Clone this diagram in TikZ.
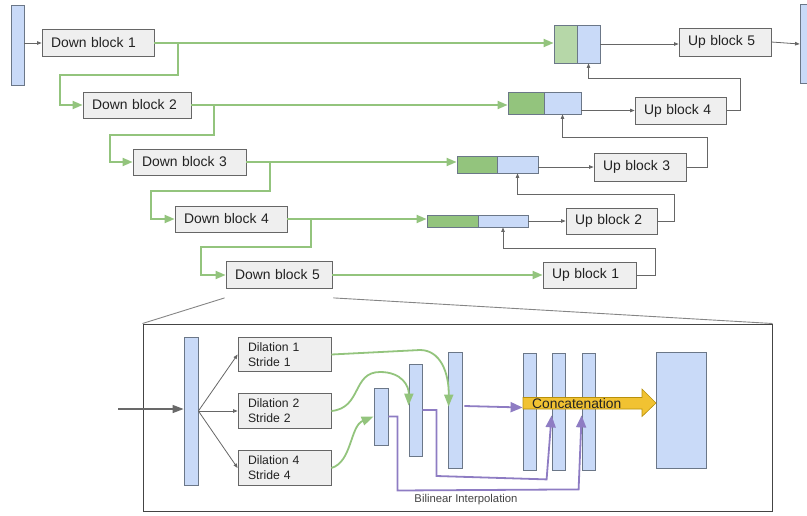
\documentclass[tikz,border=0pt]{standalone}
\usepackage{fontspec}
\setmainfont{Liberation Sans}
\usetikzlibrary{arrows.meta,calc}
\definecolor{boxfill}{HTML}{EFEFEF}
\definecolor{boxdraw}{HTML}{666666}
\definecolor{bluefill}{HTML}{C9DAF8}
\definecolor{bluedraw}{HTML}{6B7788}
\definecolor{grnc}{HTML}{93C47D}
\definecolor{grnlight}{HTML}{B6D7A8}
\definecolor{purc}{HTML}{8E7CC3}
\definecolor{yel}{HTML}{F1C232}
\definecolor{yeldraw}{HTML}{B8900A}
\definecolor{garc}{HTML}{666666}
\definecolor{txt}{HTML}{222222}
\definecolor{framec}{HTML}{444444}
\begin{document}
\begin{tikzpicture}[x=1pt,y=-1pt,
  blk/.style={draw=boxdraw, fill=boxfill, line width=0.8pt, inner xsep=9pt, inner ysep=0pt,
    align=left, text=txt, font=\fontsize{13.9}{16}\selectfont},
  dil/.style={draw=boxdraw, fill=boxfill, line width=0.8pt, inner xsep=10pt, inner ysep=0pt,
    align=left, text width=73pt, minimum height=34.5pt, text=txt, font=\fontsize{12.2}{15}\selectfont},
  bar/.style={draw=bluedraw, fill=bluefill, line width=0.8pt, inner sep=0pt},
  cg/.style={bar, fill=grnc},
  grn/.style={draw=grnc, line width=1.9pt, -{Triangle[length=10pt,width=8pt]}},
  gar/.style={draw=garc, line width=0.8pt, -{Triangle[length=4.5pt,width=3.5pt]}},
  fan/.style={draw=garc!80, line width=0.9pt},
  gcurve/.style={draw=grnc, line width=1.8pt, -{Triangle[length=12pt,width=9pt]}},
  pur/.style={draw=purc, line width=1.8pt, -{Triangle[length=12pt,width=10pt]}},
  inarrow/.style={draw=framec!80, line width=1.3pt, -{Triangle[length=11pt,width=8pt]}}
]
\useasboundingbox (0,0) rectangle (807,515);

% ---------- top: encoder / decoder ----------
\node[bar, minimum width=13pt, minimum height=80pt] (inbar) at (17.5,45) {};
\node[bar, minimum width=12pt, minimum height=79pt] (outbar) at (806,44) {};

\node[blk, text width=94pt, minimum height=27pt] (db1) at (98,43) {Down block 1};
\node[blk, text width=90pt, minimum height=26pt] (db2) at (137,105) {Down block 2};
\node[blk, text width=95pt, minimum height=26pt] (db3) at (189.5,162) {Down block 3};
\node[blk, text width=94pt, minimum height=26pt] (db4) at (231,219) {Down block 4};
\node[blk, text width=88pt, minimum height=27pt] (db5) at (279,275) {Down block 5};

\node[blk, text width=74pt, minimum height=28pt] (ub5) at (725,42) {Up block 5};
\node[blk, text width=73pt, minimum height=27pt] (ub4) at (680.5,110.5) {Up block 4};
\node[blk, text width=74pt, minimum height=28pt] (ub3) at (640,167) {Up block 3};
\node[blk, text width=73pt, minimum height=26pt] (ub2) at (611.5,221) {Up block 2};
\node[blk, text width=75pt, minimum height=26pt] (ub1) at (589.5,275) {Up block 1};

% concatenation blocks
\node[cg, fill=grnlight, minimum width=23pt, minimum height=38pt] (c5g) at (565.5,44) {};
\node[bar, minimum width=23pt, minimum height=38pt] (c5b) at (588.5,44) {};
\node[cg, minimum width=36pt, minimum height=22pt] (c4g) at (526,103) {};
\node[bar, minimum width=37pt, minimum height=22pt] (c4b) at (562.5,103) {};
\node[cg, minimum width=40pt, minimum height=17pt] (c3g) at (477,164.5) {};
\node[bar, minimum width=41pt, minimum height=17pt] (c3b) at (517.5,164.5) {};
\node[cg, minimum width=51pt, minimum height=12pt] (c2g) at (452.5,221) {};
\node[bar, minimum width=50pt, minimum height=12pt] (c2b) at (503,221) {};

% green skip connections
\draw[grn] (db1.east) -- (db1.east -| c5g.west);
\draw[grn] (db2.east) -- (db2.east -| c4g.west);
\draw[grn] (db3.east) -- (db3.east -| c3g.west);
\draw[grn] (db4.east) -- (db4.east -| c2g.west);
\draw[grn] (db5.east) -- (ub1.west);

% green down branches
\draw[grn] (db1.east) -- ++(24,0) |- ($(db2.west)+(-23,-30)$) |- (db2.west);
\draw[grn] (db2.east) -- ++(23,0) |- ($(db3.west)+(-23,-27)$) |- (db3.west);
\draw[grn] (db3.east) -- ++(24,0) |- ($(db4.west)+(-24,-28)$) |- (db4.west);
\draw[grn] (db4.east) -- ++(24,0) |- ($(db5.west)+(-25,-28)$) |- (db5.west);

% gray connectors
\draw[gar] (inbar.east |- db1.west) -- (db1.west);
\draw[gar] (c5b.east) -- (c5b.east -| ub5.west);
\draw[gar] (ub5.east) -- (outbar.west);
\draw[gar] (c4b.east |- ub4.west) -- (ub4.west);
\draw[gar] (c3b.east |- ub3.west) -- (ub3.west);
\draw[gar] (c2b.east |- ub2.west) -- (ub2.west);
\draw[gar] (ub4.east) -- ++(14,0) |- ($(c5b.south)+(0,15)$) -- (c5b.south);
\draw[gar] (ub3.east) -- ++(21,0) |- ($(c4b.south)+(0,23)$) -- (c4b.south);
\draw[gar] (ub2.east) -- ++(17,0) |- ($(c3b.south)+(0,21)$) -- (c3b.south);
\draw[gar] (ub1.east) -- ++(19,0) |- ($(c2b.south)+(0,21)$) -- (c2b.south);

% ---------- bottom: detail ----------
\node[draw=framec, line width=1pt, minimum width=629pt, minimum height=187pt, inner sep=0pt] (detail) at (457.5,417.5) {};
\draw[fan] ($(db5.south west)+(-1,9)$) -- (detail.north west);
\draw[fan] ($(db5.south east)+(1,9)$) -- (detail.north east);

\node[bar, minimum width=14pt, minimum height=148pt] (inbar2) at (191,411) {};
\coordinate (inp) at (118,409);
\draw[inarrow] (inp) -- (inbar2.west |- inp);

\node[dil] (d1) at (284.5,354.5) {Dilation 1\\Stride 1};
\node[dil] (d2) at (284.5,411) {Dilation 2\\Stride 2};
\node[dil] (d3) at (284.5,468) {Dilation 4\\Stride 4};
\draw[gar] (inbar2.east) -- (d1.west);
\draw[gar] (inbar2.east) -- (d2.west);
\draw[gar] (inbar2.east) -- (d3.west);

\node[bar, minimum width=14pt, minimum height=57pt] (barA) at (381,416.5) {};
\node[bar, minimum width=13pt, minimum height=92pt] (barB) at (415.5,410) {};
\node[bar, minimum width=14pt, minimum height=116pt] (barC) at (455,410) {};
\node[bar, minimum width=13pt, minimum height=117pt] (barD) at (529.5,411.5) {};
\node[bar, minimum width=13pt, minimum height=117pt] (barE) at (558.5,411.5) {};
\node[bar, minimum width=13pt, minimum height=117pt] (barF) at (588.5,411.5) {};
\node[bar, minimum width=50pt, minimum height=116pt] (outB) at (681,410) {};

% green curves
\draw[gcurve] (d1.east) -- (420,350) .. controls (440,350) and (449,372) .. ($(barC.north west)+(1,55)$);
\draw[gcurve] (d2.east) .. controls (362,408) and (352,372) .. (380,372) .. controls (402,372) and (409,386) .. ($(barB.north west)+(0,42)$);
\draw[gcurve] (d3.east) .. controls (352,462) and (350,426) .. (barA.west);

% concatenation arrow
\draw[fill=yel, draw=yeldraw, line width=0.6pt] (523,397.5) -- (642,397.5) -- (642,389) -- (656,403) -- (642,416.5) -- (642,409) -- (523,409) -- cycle;
\node[anchor=base west, inner sep=0pt, text=txt, font=\fontsize{13.8}{16}\selectfont] (concat) at (532,408) {Concatenation};

% purple (bilinear interpolation)
\draw[pur] ($(barC.east)+(2,-4)$) -- ($(barD.west)+(0,-4)$);
\draw[pur] (barB.east) -- ++(14,0) -- ++(0,66) -- ($(barE.south west)+(-5,9)$) -- ($(barE.south west)+(0,-55)$);
\draw[pur] (barA.east) -- ++(9,0) -- ++(0,74) -- ($(barF.south west)+(-3,19)$) -- ($(barF.south west)+(0,-55)$);
\node[text=txt!85, font=\fontsize{11.3}{13}\selectfont, inner sep=0pt] (bil) at (466,500) {Bilinear Interpolation};
\end{tikzpicture}
\end{document}
